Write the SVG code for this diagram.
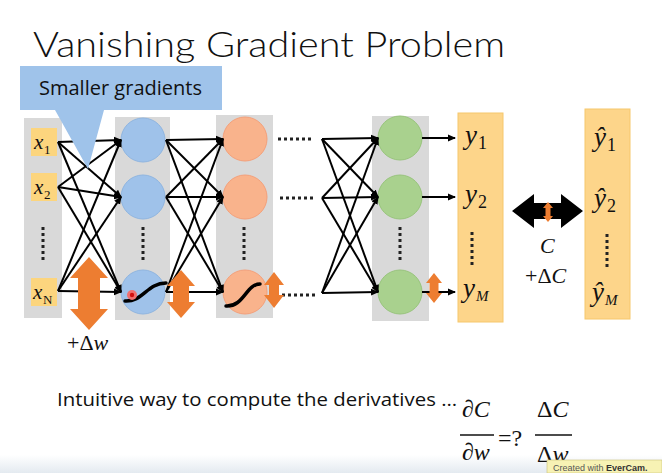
<svg xmlns="http://www.w3.org/2000/svg" width="662" height="473" viewBox="0 0 662 473">
<defs>
<marker id="ah" markerWidth="8" markerHeight="8" refX="7" refY="4" orient="auto" markerUnits="userSpaceOnUse">
<path d="M0,0.5 L8,4 L0,7.5 Z" fill="#000"/>
</marker>
<linearGradient id="bot" x1="0" y1="0" x2="0" y2="1">
<stop offset="0" stop-color="#ffffff"/>
<stop offset="1" stop-color="#e4eaf0"/>
</linearGradient>
<style>
.col{fill:#d9d9d9}
.inb{fill:#fcd57e}
.blue{fill:#9fc2ea;stroke:#8fb5e0;stroke-width:1}
.sal{fill:#f9b38c;stroke:#f4a07a;stroke-width:1}
.grn{fill:#a9d18e;stroke:#98c47c;stroke-width:1}
.outc{fill:#fdd58a;stroke:#f6c76c;stroke-width:1}
.edge{stroke:#000;stroke-width:2;fill:none;marker-end:url(#ah)}
.dotsv{stroke:#222;stroke-width:3;stroke-dasharray:3 3;fill:none}
.dotsh{stroke:#222;stroke-width:3;stroke-dasharray:3 3;fill:none}
.or{fill:#ed7d31}
.sig{stroke:#000;stroke-width:3.5;fill:none;stroke-linecap:round}
.m{font-family:"Liberation Serif","DejaVu Serif",serif;font-style:italic;fill:#111}
.mu{font-family:"Liberation Serif","DejaVu Serif",serif;font-style:normal;fill:#111}
.sans{font-family:"Open Sans","Liberation Sans",sans-serif;fill:#111}
</style>
</defs>
<rect x="0" y="0" width="662" height="473" fill="#fff"/>
<rect x="0" y="455" width="662" height="18" fill="url(#bot)"/>

<text x="33" y="57" font-family="Lato,'Open Sans','Liberation Sans',sans-serif" font-weight="300" font-size="36" textLength="472" lengthAdjust="spacingAndGlyphs" fill="#111">Vanishing Gradient Problem</text>

<g id="inputs">
<rect class="col" x="24" y="118" width="38" height="200"/>
<rect class="inb" x="31" y="128" width="26" height="28"/>
<rect class="inb" x="31" y="173" width="26" height="28"/>
<rect class="inb" x="31" y="278" width="26" height="28"/>
<text class="m" x="34" y="149" font-size="21">x</text><text class="mu" x="44" y="154" font-size="13">1</text>
<text class="m" x="34" y="194" font-size="21">x</text><text class="mu" x="44" y="199" font-size="13">2</text>
<text class="m" x="33" y="299" font-size="21">x</text><text class="mu" x="43" y="304" font-size="13">N</text>
<line class="dotsv" x1="43" y1="227" x2="43" y2="263"/>
</g>

<g id="layer1">
<rect class="col" x="115" y="117" width="55" height="203"/>
<circle class="blue" cx="143" cy="140" r="22"/>
<circle class="blue" cx="143" cy="197" r="22"/>
<circle class="blue" cx="143" cy="292" r="22"/>
<line class="dotsv" x1="143" y1="227" x2="143" y2="263"/>
<path class="sig" d="M125,301 C143,302 147,283 166,283"/>
<circle cx="132" cy="295" r="5" fill="#f07070"/>
<circle cx="132" cy="295" r="2.2" fill="#d01010"/>
</g>

<g id="layer2">
<rect class="col" x="216" y="115" width="57" height="203"/>
<circle class="sal" cx="245" cy="139" r="22"/>
<circle class="sal" cx="245" cy="197" r="22"/>
<circle class="sal" cx="245" cy="292" r="22"/>
<line class="dotsv" x1="244" y1="227" x2="244" y2="263"/>
<path class="sig" d="M226,306 C244,307 246,284 260,284"/>
</g>

<g id="dots">
<line class="dotsh" x1="278" y1="139" x2="314" y2="139"/>
<line class="dotsh" x1="280" y1="198" x2="316" y2="198"/>
<line class="dotsh" x1="282" y1="295" x2="318" y2="295"/>
</g>

<g id="layerL">
<rect class="col" x="372" y="116" width="57" height="205"/>
<circle class="grn" cx="400" cy="138" r="22"/>
<circle class="grn" cx="400" cy="197" r="22"/>
<circle class="grn" cx="400" cy="292" r="22"/>
<line class="dotsv" x1="400" y1="227" x2="400" y2="263"/>
</g>

<g id="outputs">
<rect class="outc" x="458" y="113" width="45" height="209"/>
<text class="m" x="465" y="144" font-size="27">y</text><text class="mu" x="478" y="149" font-size="18">1</text>
<text class="m" x="465" y="203" font-size="27">y</text><text class="mu" x="478" y="208" font-size="18">2</text>
<text class="m" x="463" y="297" font-size="27">y</text><text class="m" x="476" y="301" font-size="15">M</text>
<line class="dotsv" x1="472" y1="232" x2="472" y2="267"/>
</g>

<g id="targets">
<rect class="outc" x="585" y="109" width="45" height="210"/>
<text class="m" x="594" y="146" font-size="27">ŷ</text><text class="mu" x="607" y="151" font-size="18">1</text>
<text class="m" x="594" y="207" font-size="27">ŷ</text><text class="mu" x="607" y="212" font-size="18">2</text>
<text class="m" x="592" y="301" font-size="27">ŷ</text><text class="m" x="605" y="305" font-size="15">M</text>
<line class="dotsv" x1="607" y1="234" x2="607" y2="269"/>
</g>

<g id="connectors">
<line class="edge" x1="58" y1="142" x2="121" y2="140"/>
<line class="edge" x1="58" y1="142" x2="121" y2="197"/>
<line class="edge" x1="58" y1="142" x2="121" y2="292"/>
<line class="edge" x1="58" y1="187" x2="121" y2="140"/>
<line class="edge" x1="58" y1="187" x2="121" y2="197"/>
<line class="edge" x1="58" y1="187" x2="121" y2="292"/>
<line class="edge" x1="58" y1="291" x2="121" y2="140"/>
<line class="edge" x1="58" y1="291" x2="121" y2="197"/>
<line class="edge" x1="58" y1="291" x2="121" y2="292"/>
<line class="edge" x1="166" y1="140" x2="223" y2="139"/>
<line class="edge" x1="166" y1="140" x2="223" y2="197"/>
<line class="edge" x1="166" y1="140" x2="223" y2="292"/>
<line class="edge" x1="166" y1="197" x2="223" y2="139"/>
<line class="edge" x1="166" y1="197" x2="223" y2="197"/>
<line class="edge" x1="166" y1="197" x2="223" y2="292"/>
<line class="edge" x1="166" y1="292" x2="223" y2="139"/>
<line class="edge" x1="166" y1="292" x2="223" y2="197"/>
<line class="edge" x1="166" y1="292" x2="223" y2="292"/>
<line class="edge" x1="322" y1="139" x2="378" y2="138"/>
<line class="edge" x1="322" y1="139" x2="378" y2="197"/>
<line class="edge" x1="322" y1="139" x2="378" y2="292"/>
<line class="edge" x1="322" y1="198" x2="378" y2="138"/>
<line class="edge" x1="322" y1="198" x2="378" y2="197"/>
<line class="edge" x1="322" y1="198" x2="378" y2="292"/>
<line class="edge" x1="322" y1="293" x2="378" y2="138"/>
<line class="edge" x1="322" y1="293" x2="378" y2="197"/>
<line class="edge" x1="322" y1="293" x2="378" y2="292"/>
<line class="edge" x1="422" y1="138" x2="455" y2="138"/>
<line class="edge" x1="422" y1="197" x2="455" y2="197"/>
<line class="edge" x1="422" y1="292" x2="455" y2="292"/>
<polygon points="512,211 534,194 534,203 561,203 561,194 583,211 561,228 561,219 534,219 534,228" fill="#000"/>
</g>

<g id="deltas">
<polygon class="or" points="89,257 108,278 100,278 100,309 108,309 89,330 70,309 78,309 78,278 70,278"/>
<polygon class="or" points="181,270 195,286 189,286 189,302 195,302 181,318 167,302 173,302 173,286 167,286"/>
<polygon class="or" points="274,272 284,285 279,285 279,295 284,295 274,308 264,295 269,295 269,285 264,285"/>
<polygon class="or" points="434,273 442,283 438.5,283 438.5,293 442,293 434,303 426,293 429.5,293 429.5,283 426,283"/>
<polygon class="or" points="548,202 553,208 550.5,208 550.5,216 553,216 548,222 543,216 545.5,216 545.5,208 543,208"/>
<text x="67" y="350" font-size="22" class="mu">+Δ<tspan class="m">w</tspan></text>
<text x="540" y="253" font-size="22" class="m">C</text>
<text x="525" y="283" font-size="22" class="mu">+Δ<tspan class="m">C</tspan></text>
</g>

<g id="callout">
<path d="M20,66 H222 V110 H104 L88,169 L55,110 H20 Z" fill="#9fc3ea"/>
<text x="39" y="95" font-size="20" class="sans" textLength="163" lengthAdjust="spacingAndGlyphs">Smaller gradients</text>
</g>

<text x="57" y="406" font-size="18" class="sans" textLength="400" lengthAdjust="spacingAndGlyphs">Intuitive way to compute the derivatives …</text>

<g id="formula">
<text x="462" y="417" font-size="24" class="m">∂C</text>
<line x1="460" y1="435" x2="494" y2="435" stroke="#111" stroke-width="1.3"/>
<text x="462" y="460" font-size="24" class="m">∂w</text>
<text x="498" y="446" font-size="24" class="mu">=?</text>
<text x="537" y="417" font-size="24" class="mu">Δ<tspan class="m">C</tspan></text>
<line x1="535" y1="435" x2="572" y2="435" stroke="#111" stroke-width="1.3"/>
<text x="537" y="462" font-size="24" class="mu">Δ<tspan class="m">w</tspan></text>
</g>

<g id="watermark">
<rect x="547" y="460" width="115" height="13" fill="#f7f2b4" stroke="#c9c07a" stroke-width="0.6"/>
<text x="553" y="470.5" font-size="9" font-family="'Liberation Sans',sans-serif" fill="#555">Created with <tspan font-weight="bold" fill="#333">EverCam.</tspan></text>
</g>
</svg>
